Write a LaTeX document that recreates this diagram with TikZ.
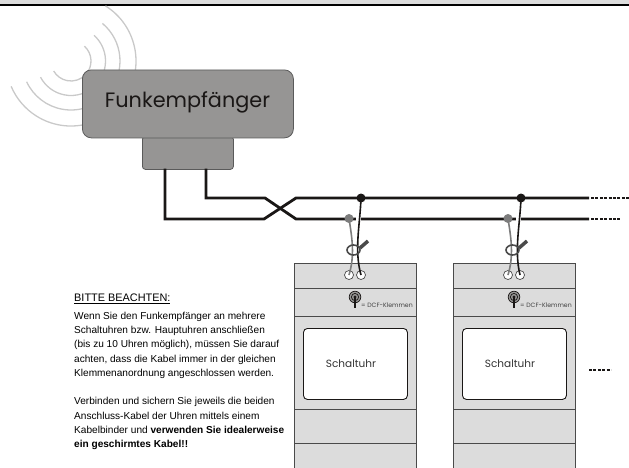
\documentclass[tikz,border=0pt]{standalone}
\usepackage{fontspec}
\usetikzlibrary{calc}
\setmainfont{Liberation Sans}
\newfontfamily\geofont{Poppins}
\definecolor{boxgray}{HTML}{969594}
\definecolor{boxedge}{HTML}{5A5A5A}
\definecolor{devfill}{HTML}{DCDCDC}
\definecolor{devedge}{HTML}{4A4A4A}
\definecolor{wave}{HTML}{C9C9C9}
\definecolor{ink}{HTML}{1A1716}
\definecolor{wiregray}{HTML}{7C7C7C}
\tikzset{
  x=1pt,y=-1pt,
  receiver/.style={draw=boxedge,fill=boxgray,line width=0.8pt,rounded corners=#1,inner sep=0pt,anchor=north west},
  devpart/.style={draw=devedge,fill=devfill,line width=1pt,inner sep=0pt,anchor=north west,minimum width=122pt},
  clockface/.style={draw=ink,fill=white,line width=0.9pt,rounded corners=4pt,inner sep=0pt,anchor=north west,minimum width=104pt,minimum height=71pt},
  terminal/.style={circle,draw=devedge,fill=white,line width=0.7pt,minimum size=9pt,inner sep=0pt},
  busline/.style={draw=ink,line width=2.8pt,line join=miter},
  busdots/.style={draw=ink,line width=2.8pt,dash pattern=on 3pt off 1.4pt},
  blackdot/.style={circle,fill=ink,minimum size=9pt,inner sep=0pt},
  graydot/.style={circle,fill=wiregray,minimum size=9pt,inner sep=0pt},
  waveline/.style={draw=wave,line width=1.3pt},
  clearance/.style={draw=white,line width=5pt},
  blackwire/.style={draw=ink,line width=1.6pt},
  graywire/.style={draw=wiregray,line width=1.6pt},
  tie/.style={draw=#1,line width=1.6pt},
  tietail/.style={draw=#1,line width=3.5pt},
  plainlabel/.style={inner sep=0pt,text=ink},
}
\newcommand{\clockunit}[2]{% id, left x
  \node[devpart,minimum height=53pt] (#1top) at (#2,263) {};
  \node[devpart,minimum height=94pt] (#1mid) at (#2,316) {};
  \node[devpart,minimum height=34pt] (#1low) at (#2,409) {};
  \node[devpart,minimum height=30pt] (#1foot) at (#2,443) {};
  \draw[devedge,line width=1pt] (#2,288) -- (#2+122,288);
  \node[clockface] (#1face) at (#2+9,328) {};
  \node[plainlabel,font=\geofont\fontsize{10.5}{12}\selectfont,text=black!80] (#1name) at (#2+57,363.5) {Schaltuhr};
  \node[plainlabel,font=\geofont\fontsize{6.2}{7}\selectfont,anchor=west,text=black!75] (#1dcf) at (#2+67,305) {= DCF-Klemmen};
  \coordinate (#1ant) at (#2+61,297);
  \draw[ink,line width=0.7pt,fill=boxgray] (#1ant) circle[radius=5.8];
  \draw[ink,line width=0.7pt] (#1ant) circle[radius=3.6];
  \fill[ink] (#1ant) circle[radius=1.6];
  \draw[ink,line width=1.1pt] (#1ant) -- ++(0,11);
  \node[terminal] (#1ta) at (#2+55,275) {};
  \node[terminal] (#1tb) at (#2+67,275) {};
}
\newcommand{\clockwires}[3]{% id, gray dot x, black dot x
  \node[blackdot] (#1black) at (#3,198) {};
  \node[graydot] (#1gray) at (#2,218.5) {};
  \draw[clearance] (#3-2.5,214) -- (#3-2.5,224);
  \coordinate (#1tiec) at (#2+4.5,250);
  \draw[tietail=devedge] (#2+11,248) -- (#2+19,241);
  \draw[graywire] (#1gray.center) .. controls (#2+3,238) and (#2+6,255) .. (#1ta.center);
  \draw[blackwire] (#1black.center) .. controls (#3-1,225) and (#3-7,250) .. (#1tb.center);
  \draw[tie=devedge] (#1tiec) ellipse[x radius=6.5,y radius=5];
}
\begin{document}
\begin{tikzpicture}
\useasboundingbox (0,0) rectangle (629,467);
% top band of the cropped page
\fill[devfill] (0,0) rectangle (629,4);
\fill[black] (0,4) rectangle (629,6.2);
% radio waves
\coordinate (wavec) at (71,61);
\foreach \r/\a/\b in {20/-48/150, 34.5/-48/152, 49/-50/155, 65/-58/157}{
  \draw[waveline] ($(wavec)+(\a:\r)$) arc[start angle=\a,end angle=\b,radius=\r];
}
% receiver
\node[receiver=3pt,minimum width=91pt,minimum height=33pt] (plug) at (142,136) {};
\node[receiver=9pt,minimum width=211pt,minimum height=68pt] (recv) at (82,69.5) {};
\node[plainlabel,font=\geofont\fontsize{20.8}{24}\selectfont] (recvname) at (187.5,102) {Funkempfänger};
% bus
\coordinate (pa) at (165,168.5);
\coordinate (pb) at (206,168.5);
\coordinate (ca1) at (165,219);
\coordinate (ca2) at (264,219);
\coordinate (ca3) at (296,198);
\coordinate (cb1) at (206,198);
\coordinate (cb2) at (265,198);
\coordinate (cb3) at (296,219);
\coordinate (endtop) at (589,198);
\coordinate (endbot) at (589,219);
\coordinate (dottop) at (591,198);
\coordinate (dotbot) at (591,219);
\coordinate (dottopend) at (629,198);
\coordinate (dotbotend) at (621,219);
\draw[busline] (pa) -- (ca1) -- (ca2) -- (ca3) -- (endtop);
\draw[busline] (pb) -- (cb1) -- (cb2) -- (cb3) -- (endbot);
\draw[busdots] (dottop) -- (dottopend);
\draw[busdots] (dotbot) -- (dotbotend);
% clocks
\clockunit{u}{294}
\clockunit{v}{453}
\clockwires{u}{349}{361}
\clockwires{v}{508}{521}
% trailing dots
\coordinate (moreA) at (589,370);
\coordinate (moreB) at (611,370);
\draw[busdots] (moreA) -- (moreB);
% note
\node[plainlabel,anchor=north west,align=left,text=black,font=\fontsize{10.1}{14.3}\selectfont] (note) at (74,293.5) {%
\fontsize{10.9}{14.3}\selectfont\underline{BITTE BEACHTEN:}\\[3.5pt]
\fontsize{10.1}{14.3}\selectfont
Wenn Sie den Funkempfänger an mehrere\\
Schaltuhren bzw. Hauptuhren anschließen\\
(bis zu 10 Uhren möglich), müssen Sie darauf\\
achten, dass die Kabel immer in der gleichen\\
Klemmenanordnung angeschlossen werden.\\[14.3pt]
Verbinden und sichern Sie jeweils die beiden\\
Anschluss-Kabel der Uhren mittels einem\\
Kabelbinder und \textbf{verwenden Sie idealerweise}\\
\textbf{ein geschirmtes Kabel!!}};
\end{tikzpicture}
\end{document}
